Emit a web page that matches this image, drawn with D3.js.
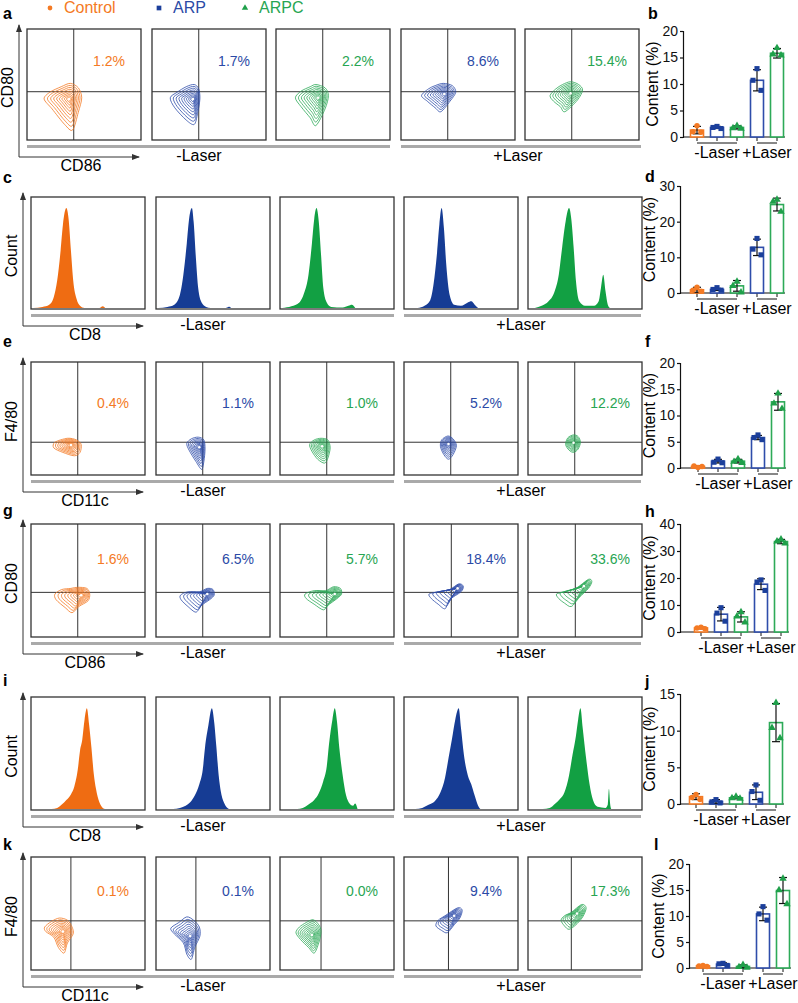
<!DOCTYPE html>
<meta charset="utf-8">
<script src="https://d3js.org/d3.v7.min.js"></script>
<style>
  body { margin: 0; background: #fff; }
  text { font-family: "Liberation Sans", Arial, sans-serif; }
</style>
<svg id="fig" width="798" height="1003"></svg>
<script>

// ---- data ----
var groups = ["Control", "ARP", "ARPC"];
var barGroup = [0, 1, 2, 1, 2];          // group of each of the 5 panels / bars
var laserLabels = ["-Laser", "+Laser"];

// flow panels: quadrant percentages
var pctA = ["1.2%", "1.7%", "2.2%", "8.6%", "15.4%"];
var pctE = ["0.4%", "1.1%", "1.0%", "5.2%", "12.2%"];
var pctG = ["1.6%", "6.5%", "5.7%", "18.4%", "33.6%"];
var pctK = ["0.1%", "0.1%", "0.0%", "9.4%", "17.3%"];

// contour plots: densest point + outer contour (fractions of the panel box)
var contA = [
  {core: [0.37, 0.63], outline: [[0.38,0.49],[0.45,0.53],[0.48,0.62],[0.45,0.75],[0.40,0.91],[0.33,0.86],[0.22,0.72],[0.15,0.63],[0.20,0.57],[0.30,0.52]]},
  {core: [0.36, 0.63], outline: [[0.37,0.50],[0.41,0.54],[0.42,0.63],[0.40,0.76],[0.37,0.86],[0.30,0.82],[0.20,0.71],[0.16,0.62],[0.22,0.57],[0.30,0.52]]},
  {core: [0.37, 0.62], outline: [[0.35,0.50],[0.43,0.53],[0.46,0.60],[0.43,0.72],[0.35,0.87],[0.30,0.80],[0.22,0.70],[0.17,0.62],[0.22,0.56],[0.30,0.52]]},
  {core: [0.38, 0.585], outline: [[0.37,0.49],[0.45,0.51],[0.48,0.57],[0.43,0.65],[0.35,0.745],[0.30,0.71],[0.23,0.65],[0.18,0.60],[0.24,0.54],[0.30,0.51]]},
  {core: [0.40, 0.58], outline: [[0.40,0.475],[0.47,0.50],[0.505,0.55],[0.46,0.64],[0.35,0.745],[0.31,0.70],[0.25,0.65],[0.22,0.60],[0.27,0.54],[0.33,0.50]]}
];
var contE = [
  {core: [0.35, 0.735], outline: [[0.32,0.675],[0.40,0.69],[0.44,0.73],[0.43,0.80],[0.38,0.83],[0.28,0.80],[0.20,0.76],[0.21,0.71]]},
  {core: [0.38, 0.755], outline: [[0.37,0.665],[0.42,0.69],[0.43,0.77],[0.42,0.88],[0.40,0.95],[0.35,0.88],[0.29,0.78],[0.27,0.72],[0.31,0.68]]},
  {core: [0.37, 0.745], outline: [[0.36,0.675],[0.42,0.69],[0.44,0.76],[0.42,0.85],[0.39,0.895],[0.33,0.86],[0.28,0.79],[0.26,0.73],[0.30,0.69]]},
  {core: [0.39, 0.725], outline: [[0.385,0.655],[0.43,0.68],[0.46,0.74],[0.43,0.82],[0.39,0.86],[0.35,0.82],[0.32,0.75],[0.33,0.69]]},
  {core: [0.40, 0.715], outline: [[0.40,0.645],[0.44,0.66],[0.46,0.71],[0.44,0.77],[0.40,0.80],[0.36,0.78],[0.33,0.73],[0.35,0.67]]}
];
var contG = [
  {core: [0.44, 0.63], outline: [[0.41,0.56],[0.49,0.57],[0.515,0.62],[0.50,0.68],[0.42,0.73],[0.36,0.785],[0.30,0.74],[0.22,0.67],[0.21,0.62],[0.27,0.58],[0.35,0.57]]},
  {core: [0.45, 0.62], outline: [[0.45,0.57],[0.50,0.58],[0.51,0.63],[0.47,0.67],[0.40,0.72],[0.35,0.78],[0.28,0.73],[0.22,0.67],[0.215,0.63],[0.28,0.60],[0.38,0.60]]},
  {core: [0.48, 0.62], outline: [[0.47,0.555],[0.53,0.57],[0.54,0.62],[0.50,0.66],[0.42,0.72],[0.38,0.76],[0.30,0.71],[0.23,0.66],[0.22,0.62],[0.30,0.59],[0.40,0.59]]},
  {core: [0.47, 0.57], outline: [[0.48,0.53],[0.52,0.55],[0.50,0.60],[0.40,0.67],[0.36,0.75],[0.30,0.71],[0.24,0.66],[0.22,0.62],[0.30,0.60],[0.40,0.58]]},
  {core: [0.49, 0.55], outline: [[0.53,0.49],[0.56,0.51],[0.53,0.57],[0.45,0.65],[0.38,0.73],[0.32,0.70],[0.27,0.66],[0.25,0.62],[0.32,0.60],[0.42,0.57]]}
];
var contK = [
  {core: [0.28, 0.66], outline: [[0.25,0.54],[0.32,0.56],[0.36,0.62],[0.37,0.68],[0.32,0.76],[0.29,0.85],[0.24,0.80],[0.20,0.71],[0.13,0.66],[0.12,0.62],[0.18,0.57]]},
  {core: [0.30, 0.70], outline: [[0.27,0.53],[0.33,0.56],[0.38,0.62],[0.385,0.70],[0.34,0.80],[0.31,0.905],[0.27,0.86],[0.24,0.76],[0.16,0.68],[0.13,0.63],[0.20,0.58]]},
  {core: [0.28, 0.69], outline: [[0.29,0.555],[0.34,0.60],[0.36,0.66],[0.34,0.76],[0.30,0.85],[0.25,0.80],[0.18,0.73],[0.14,0.67],[0.17,0.62],[0.23,0.58]]},
  {core: [0.44, 0.52], outline: [[0.47,0.45],[0.51,0.47],[0.49,0.54],[0.44,0.60],[0.38,0.67],[0.33,0.65],[0.28,0.61],[0.30,0.56],[0.36,0.52]]},
  {core: [0.43, 0.50], outline: [[0.47,0.42],[0.51,0.45],[0.48,0.53],[0.42,0.60],[0.36,0.64],[0.32,0.61],[0.29,0.56],[0.32,0.52],[0.38,0.49]]}
];

// histograms: [x fraction, height fraction]
var histC = [
  [[0.02,0],[0.10,0.01],[0.16,0.03],[0.20,0.10],[0.23,0.25],[0.26,0.52],[0.28,0.75],[0.31,0.90],[0.33,0.80],[0.35,0.52],[0.37,0.25],[0.40,0.08],[0.43,0.02],[0.47,0],[0.60,0],[0.63,0.015],[0.65,0]],
  [[0.02,0],[0.10,0.01],[0.16,0.03],[0.21,0.12],[0.24,0.30],[0.27,0.58],[0.29,0.80],[0.315,0.90],[0.33,0.78],[0.35,0.45],[0.37,0.18],[0.40,0.05],[0.44,0.01],[0.48,0],[0.61,0],[0.64,0.012],[0.66,0]],
  [[0.02,0],[0.10,0.015],[0.17,0.05],[0.21,0.13],[0.25,0.30],[0.28,0.58],[0.30,0.80],[0.32,0.90],[0.34,0.78],[0.36,0.48],[0.38,0.18],[0.41,0.05],[0.45,0.01],[0.55,0.005],[0.60,0.02],[0.63,0.03],[0.66,0]],
  [[0.12,0],[0.18,0.02],[0.23,0.07],[0.26,0.22],[0.29,0.50],[0.31,0.75],[0.33,0.90],[0.35,0.72],[0.37,0.40],[0.40,0.12],[0.44,0.03],[0.50,0.02],[0.56,0.05],[0.59,0.06],[0.62,0.03],[0.65,0]],
  [[0.06,0],[0.12,0.02],[0.18,0.06],[0.23,0.14],[0.27,0.30],[0.30,0.55],[0.33,0.78],[0.36,0.90],[0.38,0.80],[0.40,0.55],[0.42,0.25],[0.45,0.06],[0.50,0.02],[0.58,0.02],[0.62,0.06],[0.64,0.18],[0.66,0.30],[0.68,0.15],[0.70,0.03],[0.72,0]]
];
var histI = [
  [[0.18,0],[0.23,0.01],[0.27,0.04],[0.31,0.08],[0.35,0.13],[0.38,0.20],[0.41,0.35],[0.43,0.52],[0.45,0.62],[0.47,0.80],[0.49,0.90],[0.51,0.75],[0.53,0.55],[0.55,0.32],[0.57,0.18],[0.60,0.06],[0.63,0.01],[0.65,0]],
  [[0.15,0],[0.21,0.01],[0.26,0.03],[0.30,0.06],[0.34,0.12],[0.38,0.22],[0.41,0.35],[0.43,0.55],[0.46,0.75],[0.49,0.90],[0.51,0.78],[0.53,0.55],[0.55,0.30],[0.57,0.15],[0.60,0.05],[0.64,0]],
  [[0.15,0],[0.20,0.01],[0.25,0.04],[0.30,0.08],[0.34,0.14],[0.38,0.25],[0.41,0.38],[0.43,0.58],[0.46,0.80],[0.48,0.90],[0.50,0.78],[0.52,0.55],[0.55,0.30],[0.58,0.12],[0.61,0.05],[0.64,0.03],[0.66,0.05],[0.68,0]],
  [[0.10,0],[0.16,0.01],[0.22,0.04],[0.27,0.07],[0.32,0.15],[0.36,0.28],[0.39,0.45],[0.42,0.62],[0.45,0.80],[0.48,0.90],[0.50,0.72],[0.53,0.45],[0.56,0.30],[0.59,0.22],[0.62,0.12],[0.65,0.03],[0.67,0]],
  [[0.13,0],[0.19,0.01],[0.24,0.05],[0.28,0.09],[0.32,0.15],[0.36,0.30],[0.39,0.48],[0.42,0.65],[0.44,0.80],[0.46,0.90],[0.48,0.72],[0.51,0.45],[0.54,0.22],[0.57,0.08],[0.61,0.02],[0.68,0.01],[0.70,0.04],[0.71,0.18],[0.72,0.05],[0.73,0]]
];

// bar charts: mean, SD and the three replicates
var meanB = [1.3, 1.8, 1.8, 10.7, 15.8];
var sdB   = [0.7, 0.2, 0.3, 2.0, 0.9];
var ptsB  = [[2.1,1.0,0.9],[2.0,1.8,1.6],[2.1,1.7,1.6],[12.9,10.7,8.8],[16.8,15.6,15.4]];
var ticksB = [0, 5, 10, 15, 20];

var meanD = [0.9, 1.0, 2.0, 12.8, 24.8];
var sdD   = [0.7, 0.3, 1.5, 2.3, 1.8];
var ptsD  = [[1.6,0.8,0.5],[1.5,1.0,0.8],[3.2,2.0,0.2],[15.3,12.3,10.7],[26.2,25.6,22.8]];
var ticksD = [0, 10, 20, 30];

var meanF = [0.3, 1.3, 1.3, 5.8, 12.6];
var sdF   = [0.15, 0.35, 0.35, 0.4, 1.6];
var ptsF  = [[0.1,0.4,0.3],[1.7,1.1,1.0],[1.7,1.2,1.0],[6.3,5.8,5.4],[14.2,12.3,11.3]];
var ticksF = [0, 5, 10, 15, 20];

var meanH = [1.5, 6.6, 5.6, 17.7, 33.5];
var sdH   = [0.3, 2.5, 1.9, 2.0, 0.8];
var ptsH  = [[1.8,1.5,1.2],[9.0,7.0,4.0],[7.4,5.8,3.6],[19.3,18.5,15.4],[34.3,33.6,32.8]];
var ticksH = [0, 10, 20, 30, 40];

var meanJ = [1.0, 0.35, 0.85, 1.6, 11.1];
var sdJ   = [0.4, 0.25, 0.15, 1.0, 2.6];
var ptsJ  = [[1.3,0.9,0.6],[0.6,0.3,0.15],[1.0,0.8,0.75],[2.6,1.7,0.5],[13.8,10.4,9.0]];
var ticksJ = [0, 5, 10, 15];

var meanL = [0.4, 0.75, 0.3, 10.4, 14.9];
var sdL   = [0.1, 0.25, 0.3, 1.3, 2.5];
var ptsL  = [[0.5,0.4,0.3],[0.9,0.8,0.5],[0.6,0.2,0.1],[11.8,10.4,9.2],[17.2,15.0,12.3]];
var ticksL = [0, 5, 10, 15, 20];

// ---- styling ----
var textCol = ["#F47A24", "#2B4AA6", "#27A552"];
var histCol = ["#EF6C12", "#163C94", "#12A043"];
var lineCol = ["#F47A24", "#2E4DAA", "#2DAA58"];
var ptCol   = ["#F47A24", "#1B3F9B", "#1FA04A"];
var symbols = [d3.symbolCircle, d3.symbolSquare, d3.symbolTriangle];
var W = 114;

var svg = d3.select("#fig");

svg.append("defs").append("marker")
  .attr("id", "arr").attr("viewBox", "0 0 8 6")
  .attr("refX", 7).attr("refY", 3)
  .attr("markerWidth", 8).attr("markerHeight", 6)
  .attr("markerUnits", "userSpaceOnUse")
  .attr("orient", "auto")
  .append("path").attr("d", "M0,0L8,3L0,6Z").attr("fill", "#333");

// legend
var legendX = [50, 159, 245];
groups.forEach(function(name, i) {
  svg.append("path")
    .attr("transform", "translate(" + legendX[i] + ",8)")
    .attr("d", d3.symbol().type(symbols[i]).size(i == 1 ? 22 : 18)())
    .attr("fill", ptCol[i]);
  svg.append("text")
    .attr("x", legendX[i] + 14).attr("y", 13)
    .attr("font-size", 16).attr("fill", textCol[i])
    .text(name);
});

function letter(x, y, t) {
  svg.append("text").attr("x", x).attr("y", y)
    .attr("font-size", 16).attr("font-weight", "bold").text(t);
}

// ---- flow cytometry rows ----
var lineGen = d3.line().curve(d3.curveCardinalClosed.tension(0.1));

function flowRow(r) {
  var g = svg.append("g");
  var y = d3.scaleLinear().domain([0, 1]).range([r.top, r.bottom]);

  r.lefts.forEach(function(L, i) {
    var x = d3.scaleLinear().domain([0, 1]).range([L, L + W]);
    var gi = barGroup[i];

    if (r.contours) {
      var vx = r.vx[i], hy = r.hy;
      g.append("line").attr("x1", x(vx)).attr("x2", x(vx))
        .attr("y1", y(0)).attr("y2", y(1)).attr("stroke", "#333").attr("stroke-width", 1);
      g.append("line").attr("x1", x(0)).attr("x2", x(1))
        .attr("y1", y(hy)).attr("y2", y(hy)).attr("stroke", "#333").attr("stroke-width", 1);

      var c = r.contours[i], n = 10;
      for (var k = 0; k < n; k++) {
        var s = Math.pow(1 - k / n, 1.35);
        var pts = c.outline.map(function(p) {
          return [x(c.core[0] + (p[0] - c.core[0]) * s), y(c.core[1] + (p[1] - c.core[1]) * s)];
        });
        g.append("path").attr("d", lineGen(pts))
          .attr("fill", "none").attr("stroke", lineCol[gi])
          .attr("stroke-width", 0.8);
      }
      g.append("circle").attr("cx", x(c.core[0])).attr("cy", y(c.core[1]))
        .attr("r", 1.3).attr("fill", "#fff");

      g.append("text").attr("x", x(0.72)).attr("y", y(r.pctY))
        .attr("text-anchor", "middle").attr("dy", "0.35em")
        .attr("font-size", 14).attr("fill", textCol[gi])
        .text(r.pct[i]);
    } else {
      var yh = d3.scaleLinear().domain([0, 1]).range([r.bottom - 1, r.top]);
      var area = d3.area().curve(d3.curveMonotoneX)
        .x(function(d) { return x(d[0]); })
        .y0(yh(0)).y1(function(d) { return yh(d[1]); });
      g.append("path").datum(r.hist[i]).attr("d", area)
        .attr("fill", histCol[gi]);
    }

    g.append("rect").attr("x", L).attr("y", r.top)
      .attr("width", W).attr("height", r.bottom - r.top)
      .attr("fill", "none").attr("stroke", "#333").attr("stroke-width", 1.3);
  });

  // group underlines and labels
  var spans = [[r.lefts[0], r.lefts[2] + W], [r.lefts[3], 641]];
  spans.forEach(function(sp, j) {
    g.append("line").attr("x1", sp[0]).attr("x2", sp[1])
      .attr("y1", r.bottom + 6).attr("y2", r.bottom + 6)
      .attr("stroke", "#555").attr("stroke-width", 1);
    g.append("line").attr("x1", sp[0]).attr("x2", sp[1])
      .attr("y1", r.bottom + 7.5).attr("y2", r.bottom + 7.5)
      .attr("stroke", "#aaa").attr("stroke-width", 1);
    g.append("text").attr("x", j == 0 ? r.lefts[1] + 47 : r.lefts[3] + 117)
      .attr("y", r.bottom + 21).attr("text-anchor", "middle")
      .attr("font-size", 16).text(laserLabels[j]);
  });

  // axis arrows
  var ax = r.lefts[0] - 8, ay = r.bottom + 17;
  g.append("line").attr("x1", ax).attr("y1", ay).attr("x2", ax).attr("y2", r.top - 4)
    .attr("stroke", "#333").attr("marker-end", "url(#arr)");
  g.append("line").attr("x1", ax).attr("y1", ay).attr("x2", ax + 120).attr("y2", ay)
    .attr("stroke", "#333").attr("marker-end", "url(#arr)");
  g.append("text").attr("x", ax + 62).attr("y", ay + 14)
    .attr("text-anchor", "middle").attr("font-size", 16).text(r.xLab);
  g.append("text")
    .attr("transform", "translate(" + (ax - 6) + "," + ((r.top + r.bottom) / 2 + 3) + ") rotate(-90)")
    .attr("text-anchor", "middle").attr("font-size", 16).text(r.yLab);

  letter(3, r.letterY, r.letter);
}

var leftsA = [27, 152, 276, 401, 525];
var leftsB = [31, 156, 280, 404, 528];

flowRow({top: 29, bottom: 140, lefts: leftsA, contours: contA, pct: pctA, vx: [0.41,0.41,0.41,0.41,0.41], hy: 0.565, pctY: 0.29,
         xLab: "CD86", yLab: "CD80", letter: "a", letterY: 19});
flowRow({top: 197, bottom: 309, lefts: leftsB, hist: histC,
         xLab: "CD8", yLab: "Count", letter: "c", letterY: 183});
flowRow({top: 362, bottom: 475, lefts: leftsB, contours: contE, pct: pctE, vx: [0.41,0.41,0.41,0.41,0.41], hy: 0.71, pctY: 0.365,
         xLab: "CD11c", yLab: "F4/80", letter: "e", letterY: 347});
flowRow({top: 524, bottom: 637, lefts: leftsB, contours: contG, pct: pctG, vx: [0.41,0.41,0.41,0.415,0.415], hy: 0.605, pctY: 0.315,
         xLab: "CD86", yLab: "CD80", letter: "g", letterY: 516});
flowRow({top: 697, bottom: 810, lefts: leftsB, hist: histI,
         xLab: "CD8", yLab: "Count", letter: "i", letterY: 686});
flowRow({top: 857, bottom: 970, lefts: leftsB, contours: contK, pct: pctK, vx: [0.35,0.35,0.36,0.39,0.38], hy: 0.565, pctY: 0.30,
         xLab: "CD11c", yLab: "F4/80", letter: "k", letterY: 850});

// ---- bar charts ----
function barChart(c) {
  var g = svg.append("g");
  var y = d3.scaleLinear().domain([0, c.ticks[c.ticks.length - 1]]).range([c.y0, c.yTop]);
  var x = d3.scaleBand().domain(d3.range(5)).range([c.x0, c.x0 + 100])
    .paddingInner(0.35).paddingOuter(0.175);
  var bw = x.bandwidth();
  var cx = function(i) { return x(i) + bw / 2; };

  g.append("g").attr("transform", "translate(" + c.axisX + ",0)")
    .call(d3.axisLeft(y).tickValues(c.ticks).tickSize(3).tickPadding(2))
    .call(function(a) {
      a.selectAll("text").attr("font-size", 14).attr("fill", "#111")
        .attr("font-family", "Liberation Sans, Arial, sans-serif");
      a.selectAll("line,path").attr("stroke", "#111").attr("stroke-width", 1.2);
    });
  g.append("line").attr("x1", c.axisX).attr("x2", c.x0 + 98)
    .attr("y1", c.y0).attr("y2", c.y0).attr("stroke", "#111").attr("stroke-width", 1.2);

  c.mean.forEach(function(m, i) {
    var gi = barGroup[i];
    g.append("line").attr("x1", cx(i)).attr("x2", cx(i))
      .attr("y1", c.y0).attr("y2", c.y0 + 4).attr("stroke", "#111");
    g.append("rect").attr("x", x(i)).attr("y", y(m))
      .attr("width", bw).attr("height", c.y0 - y(m))
      .attr("fill", "#fff").attr("stroke", lineCol[gi]).attr("stroke-width", 1.6);
    var lo = y(m - c.sd[i]), hi = y(m + c.sd[i]);
    g.append("line").attr("x1", cx(i)).attr("x2", cx(i)).attr("y1", lo).attr("y2", hi)
      .attr("stroke", "#111").attr("stroke-width", 1.2);
    [lo, hi].forEach(function(v) {
      g.append("line").attr("x1", cx(i) - 4).attr("x2", cx(i) + 4).attr("y1", v).attr("y2", v)
        .attr("stroke", "#111").attr("stroke-width", 1.2);
    });
    var jit = [0, -4, 4];
    c.pts[i].forEach(function(v, k) {
      g.append("path")
        .attr("transform", "translate(" + (cx(i) + jit[k]) + "," + y(v) + ")")
        .attr("d", d3.symbol().type(symbols[gi]).size(gi == 1 ? 26 : 24)())
        .attr("fill", ptCol[gi]);
    });
  });

  [[0, 2], [3, 4]].forEach(function(p, j) {
    g.append("line").attr("x1", cx(p[0])).attr("x2", cx(p[1]))
      .attr("y1", c.y0 + 6).attr("y2", c.y0 + 6).attr("stroke", "#111");
    g.append("text").attr("x", (cx(p[0]) + cx(p[1])) / 2).attr("y", c.y0 + 21)
      .attr("text-anchor", "middle").attr("font-size", 16).text(laserLabels[j]);
  });

  g.append("text")
    .attr("transform", "translate(" + (c.axisX - 25) + "," + ((c.y0 + c.yTop) / 2) + ") rotate(-90)")
    .attr("text-anchor", "middle").attr("font-size", 16).text("Content (%)");

  letter(c.axisX - 35, c.letterY, c.letter);
}

barChart({axisX: 683, y0: 137, yTop: 31, x0: 687, ticks: ticksB, mean: meanB, sd: sdB, pts: ptsB, letter: "b", letterY: 19});
barChart({axisX: 680, y0: 293, yTop: 186, x0: 687, ticks: ticksD, mean: meanD, sd: sdD, pts: ptsD, letter: "d", letterY: 182});
barChart({axisX: 680, y0: 468, yTop: 363, x0: 688, ticks: ticksF, mean: meanF, sd: sdF, pts: ptsF, letter: "f", letterY: 347});
barChart({axisX: 680, y0: 632, yTop: 524, x0: 691, ticks: ticksH, mean: meanH, sd: sdH, pts: ptsH, letter: "h", letterY: 517});
barChart({axisX: 680, y0: 804, yTop: 694, x0: 686, ticks: ticksJ, mean: meanJ, sd: sdJ, pts: ptsJ, letter: "j", letterY: 687});
barChart({axisX: 689, y0: 968, yTop: 864, x0: 693, ticks: ticksL, mean: meanL, sd: sdL, pts: ptsL, letter: "l", letterY: 850});

</script>
